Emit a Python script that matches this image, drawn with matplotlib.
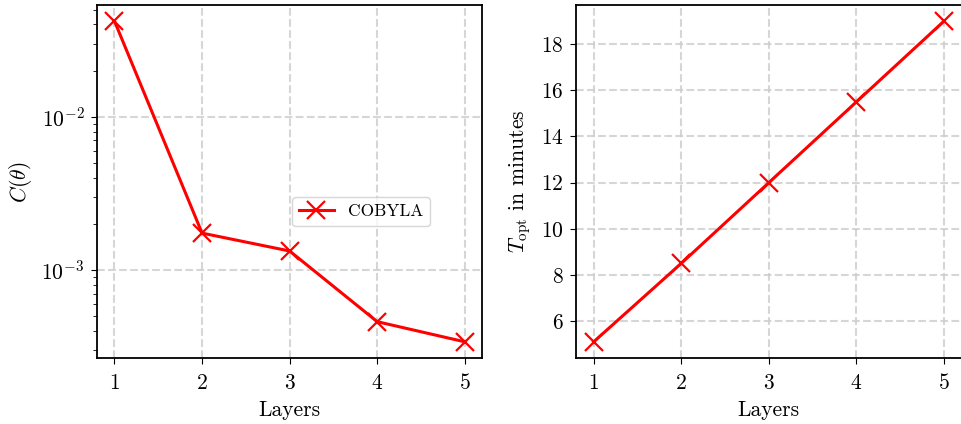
import matplotlib
matplotlib.use("Agg")
import matplotlib.pyplot as plt

plt.rcParams["font.family"] = "serif"
plt.rcParams["font.serif"] = ["cmr10"]
plt.rcParams["mathtext.fontset"] = "cm"
plt.rcParams["axes.formatter.use_mathtext"] = True
plt.rcParams["font.size"] = 15.5
plt.rcParams["xtick.major.size"] = 4.5
plt.rcParams["ytick.major.size"] = 4.5
plt.rcParams["ytick.minor.size"] = 2.6
plt.rcParams["xtick.major.pad"] = 6.5
plt.rcParams["ytick.major.pad"] = 4.5
plt.rcParams["axes.labelpad"] = 5.5

layers = [1, 2, 3, 4, 5]
cost = [0.042, 1.74e-3, 1.33e-3, 4.6e-4, 3.4e-4]
t_opt = [5.1, 8.5, 12.0, 15.5, 19.0]

fig, (ax1, ax2) = plt.subplots(1, 2, figsize=(9.62, 4.24), dpi=100)
fig.subplots_adjust(left=0.1008, right=0.9995, top=0.988, bottom=0.156, wspace=0.2435)

style = dict(color="red", lw=2.2, marker="x", ms=13, mew=1.6)
grid = dict(ls="--", color="#cccccc", lw=1.5, alpha=0.8)

ax1.plot(layers, cost, label="COBYLA", **style)
ax1.set_yscale("log")
ax1.set_ylabel(r"$C(\theta)$")
ax1.set_xlabel("Layers")
ax1.grid(True, **grid)
ax1.legend(loc="center", bbox_to_anchor=(0.685, 0.414), fontsize=12.5)

ax2.plot(layers, t_opt, **style)
ax2.set_ylabel(r"$T_\mathrm{opt}$ in minutes")
ax2.set_xlabel("Layers")
ax2.grid(True, **grid)

for ax in (ax1, ax2):
    ax.set_xticks(layers)
    for sp in ax.spines.values():
        sp.set_linewidth(1.3)

fig.savefig("out.png", dpi=100)
